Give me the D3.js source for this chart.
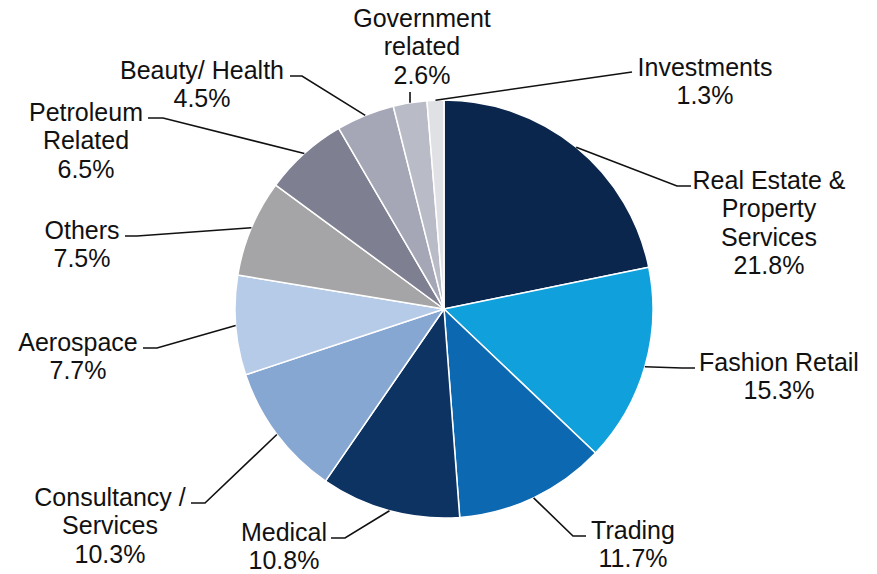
<!DOCTYPE html>
<html>
<head>
<meta charset="utf-8">
<script src="https://cdn.jsdelivr.net/npm/d3@7"></script>
<style>
  html, body { margin: 0; padding: 0; background: #fff; }
  svg text { font-family: "Liberation Sans", Arial, sans-serif; fill: #111; }
</style>
</head>
<body>
<svg id="chart" width="877" height="574"></svg>
<script>
// Portfolio share by sector, clockwise from 12 o'clock
const categories = [
  "Real Estate & Property Services", "Fashion Retail", "Trading", "Medical",
  "Consultancy / Services", "Aerospace", "Others", "Petroleum Related",
  "Beauty/ Health", "Government related", "Investments"
];
const shares = [21.8, 15.3, 11.7, 10.8, 10.3, 7.7, 7.5, 6.5, 4.5, 2.6, 1.3];
const sliceColors = [
  "#0a264d", "#10a1dc", "#0c68b1", "#0c3361", "#87a7d3", "#b6cbe7",
  "#a5a5a7", "#7e7f91", "#a6a7b6", "#b9bbc6", "#e0e1e5"
];
// Label text lines per slice
const labelLines = [
  ["Real Estate &", "Property", "Services"],
  ["Fashion Retail"],
  ["Trading"],
  ["Medical"],
  ["Consultancy /", "Services"],
  ["Aerospace"],
  ["Others"],
  ["Petroleum", "Related"],
  ["Beauty/ Health"],
  ["Government", "related"],
  ["Investments"]
];

// Label placement: text centre x, first-line centre y, leader elbow x, leader end x.
// vy: end of a straight vertical leader; ey: end point y of a straight leader.
const labelLayout = [
  { tx: 769, ty: 180, ex: 677, hx: 691 },
  { tx: 779, ty: 362, ex: 682, hx: 695 },
  { tx: 633, ty: 530, ex: 573, hx: 586 },
  { tx: 284, ty: 532, ex: 345, hx: 331 },
  { tx: 110, ty: 497, ex: 205, hx: 191 },
  { tx: 78,  ty: 342, ex: 157, hx: 143 },
  { tx: 82,  ty: 230, ex: 137, hx: 125 },
  { tx: 86,  ty: 112, ex: 163, hx: 148 },
  { tx: 202, ty: 70,  ex: 302, hx: 290 },
  { tx: 422, ty: 18,  ex: null, hx: null, vy: 92 },
  { tx: 705, ty: 67,  ex: 632, hx: null, ey: 72 }
];

const cx = 444, cy = 309, R = 209;
const fontSize = 25, lineGap = 28.5;

const svg = d3.select("#chart");
const g = svg.append("g").attr("transform", `translate(${cx},${cy})`);

const data = categories.map((c, i) => ({ name: c, value: shares[i], color: sliceColors[i], i }));

const pie = d3.pie().value(d => d.value).sort(null).startAngle(0).endAngle(2 * Math.PI);
const arcs = pie(data);
const arc = d3.arc().innerRadius(0).outerRadius(R);
const edge = d3.arc().innerRadius(R).outerRadius(R);

g.selectAll("path.slice")
  .data(arcs)
  .join("path")
  .attr("class", "slice")
  .attr("d", arc)
  .attr("fill", d => d.data.color)
  .attr("stroke", "#fff")
  .attr("stroke-width", 1.5)
  .attr("stroke-linejoin", "round");

// Leader lines from slice edge to label
const leaders = svg.append("g");
arcs.forEach((a, i) => {
  const L = labelLayout[i];
  const [px, py] = edge.centroid(a);
  const sx = cx + px, sy = cy + py;
  let pts;
  if (L.ex === null) {
    pts = [[sx, sy], [sx, L.vy]];
  } else if (L.hx === null) {
    pts = [[sx, sy], [L.ex, L.ey]];
  } else {
    const ly = L.ty + 6;
    pts = [[sx, sy], [L.ex, ly], [L.hx, ly]];
  }
  leaders.append("path")
    .attr("d", d3.line()(pts))
    .attr("fill", "none")
    .attr("stroke", "#111")
    .attr("stroke-width", 1.6);
});

// Labels: name lines followed by the percentage
const labels = svg.append("g");
arcs.forEach((a, i) => {
  const L = labelLayout[i];
  const lines = labelLines[i].concat([d3.format(".1f")(a.data.value) + "%"]);
  const t = labels.append("text")
    .attr("text-anchor", "middle")
    .attr("font-size", fontSize);
  lines.forEach((s, k) => {
    t.append("tspan")
      .attr("x", L.tx)
      .attr("y", L.ty + k * lineGap)
      .attr("dy", "0.35em")
      .text(s);
  });
});
</script>
</body>
</html>
